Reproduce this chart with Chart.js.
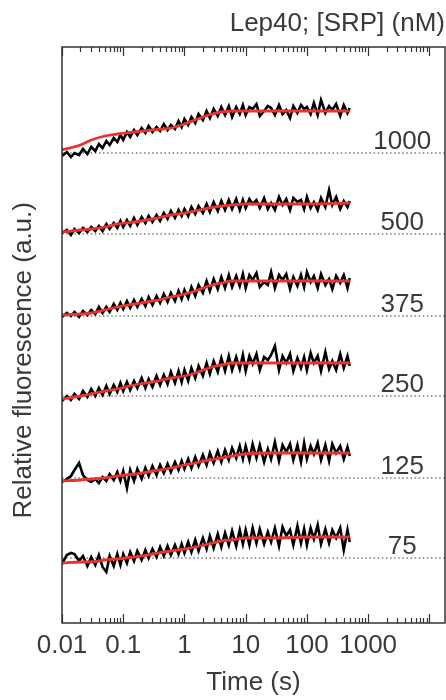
<!DOCTYPE html>
<html>
<head>
<meta charset="utf-8">
<script src="https://cdn.jsdelivr.net/npm/chart.js@4.4.1/dist/chart.umd.min.js"></script>
<style>
  html, body { margin: 0; padding: 0; background: #fff; }
  #wrap { width: 446px; height: 700px; }
</style>
</head>
<body>
<div id="wrap"><canvas id="kinetics" width="446" height="700"></canvas></div>
<script>
// [SRP] in nM, one trace per concentration, top to bottom
const concentrations = ['1000', '500', '375', '250', '125', '75'];
// level of the dotted line under each trace (a.u.)
const baselines = [47.0, 38.9, 30.7, 22.7, 14.5, 6.5];

// time points of the recorded traces (s)
const traceTimes = [0.01, 0.012, 0.014, 0.016, 0.019, 0.022, 0.026, 0.03, 0.035, 0.04, 0.046, 0.053, 0.06, 0.07, 0.08, 0.09,
  0.1, 0.115, 0.13, 0.15, 0.17, 0.2, 0.23, 0.26, 0.3, 0.35, 0.4, 0.46, 0.53, 0.6, 0.7, 0.8, 0.9,
  1, 1.15, 1.3, 1.5, 1.7, 2, 2.3, 2.6, 3, 3.5, 4, 4.6, 5.3, 6, 7, 8, 9,
  10, 11.5, 13, 15, 17, 20, 23, 26, 30, 35, 40, 46, 53, 60, 70, 80, 90,
  100, 115, 130, 150, 170, 200, 230, 260, 300, 350, 400, 460, 500];

// raw fluorescence above baseline (a.u.)
const raw1000 = [-0.3, 0.1, -0.4, 0.0, -0.2, 0.4, -0.1, 0.6, 0.2, 0.9, 0.5, 1.2, 0.8, 1.5, 1.1, 1.8,
  1.3, 2.1, 1.6, 2.3, 1.8, 2.5, 2.0, 2.7, 2.1, 2.6, 2.2, 2.9, 2.3, 2.8, 2.4, 3.2, 2.6,
  3.4, 2.8, 3.6, 3.0, 3.9, 3.3, 4.2, 3.5, 4.4, 3.7, 4.6, 3.8, 4.7, 3.6, 4.6, 3.9, 4.8,
  3.8, 4.6, 4.4, 4.9, 3.7, 4.2, 4.7, 4.5, 3.8, 4.8, 3.9, 4.3, 3.5, 4.7, 4.0, 4.8, 4.4,
  4.6, 3.9, 5.0, 3.8, 5.3, 4.0, 4.7, 4.3, 4.9, 3.7, 4.8, 4.0, 4.5];
const raw500 = [0.1, 0.4, -0.1, 0.5, 0.1, 0.6, 0.2, 0.7, 0.3, 0.8, 0.3, 1.0, 0.5, 1.1, 0.6, 1.3,
  0.7, 1.4, 0.8, 1.6, 0.9, 1.7, 1.1, 1.8, 1.2, 1.9, 1.3, 2.1, 1.5, 2.3, 1.6, 2.4, 1.8,
  2.5, 1.8, 2.7, 2.0, 2.8, 2.1, 3.0, 2.2, 3.2, 2.3, 3.3, 2.4, 3.4, 2.5, 3.5, 2.4, 3.4,
  2.6, 3.5, 3.0, 3.4, 2.6, 3.6, 2.5, 3.1, 2.4, 3.7, 2.9, 3.5, 2.4, 3.6, 3.2, 3.4, 2.5,
  3.7, 2.6, 3.2, 2.4, 3.6, 2.7, 4.4, 2.9, 3.7, 2.5, 3.3, 2.7, 3.3];
const raw375 = [-0.1, 0.3, 0.0, 0.4, -0.1, 0.5, 0.1, 0.6, 0.2, 0.9, 0.3, 0.9, 0.4, 1.2, 0.6, 1.3,
  0.7, 1.5, 0.8, 1.6, 0.9, 1.7, 1.0, 1.9, 1.1, 2.0, 1.3, 2.2, 1.4, 2.3, 1.5, 2.5, 1.7,
  2.6, 1.8, 2.9, 2.0, 3.1, 2.3, 3.5, 2.5, 3.7, 2.7, 3.9, 2.8, 4.1, 2.9, 4.0, 3.0, 4.2,
  2.8, 4.1, 3.6, 4.3, 2.9, 3.4, 3.1, 4.4, 2.8, 4.1, 3.6, 4.2, 2.7, 3.9, 3.0, 4.1, 2.9,
  4.4, 3.4, 4.0, 2.8, 4.2, 3.1, 3.7, 2.7, 4.0, 3.3, 4.1, 2.8, 3.8];
const raw250 = [-0.5, 0.0, -0.4, 0.2, -0.3, 0.5, -0.1, 0.7, 0.0, 0.8, 0.1, 1.0, 0.2, 1.1, 0.4, 1.3,
  0.5, 1.4, 0.6, 1.5, 0.8, 1.8, 0.8, 1.7, 0.9, 2.0, 1.1, 2.1, 1.2, 2.4, 1.3, 2.5, 1.4,
  2.6, 1.5, 2.8, 1.8, 3.0, 2.0, 3.3, 2.2, 3.5, 2.4, 3.8, 2.5, 4.0, 2.6, 3.9, 2.7, 4.1,
  2.5, 4.0, 3.2, 4.2, 2.6, 3.9, 3.6, 4.1, 5.0, 2.6, 4.0, 3.3, 4.2, 2.5, 3.8, 2.8, 3.9,
  2.6, 4.3, 3.3, 4.0, 2.5, 4.4, 2.7, 3.5, 2.6, 4.2, 2.8, 4.0, 3.0];
const raw125 = [-0.4, -0.1, 0.2, 0.8, 1.5, 0.3, -0.2, -0.4, -0.1, -0.5, 0.1, -0.3, 0.4, -0.2, 0.6, -0.3,
  0.7, -1.0, 0.8, -0.3, 0.9, -0.1, 1.0, 0.2, 1.2, 0.3, 1.3, 0.5, 1.4, 0.6, 1.6, 0.8, 1.7,
  0.9, 1.9, 1.0, 2.1, 1.2, 2.3, 1.3, 2.5, 1.5, 2.7, 1.6, 2.8, 1.8, 3.0, 2.0, 3.2, 1.9,
  3.2, 1.8, 3.4, 2.0, 3.3, 1.6, 2.9, 1.9, 3.6, 1.7, 3.3, 2.6, 3.4, 1.8, 3.3, 1.6, 3.5,
  1.9, 3.2, 2.4, 3.5, 1.8, 3.3, 1.7, 3.4, 2.5, 3.2, 1.9, 3.1, 2.2];
const raw75 = [-0.6, 0.3, 0.5, 0.4, -0.3, 0.2, -0.8, 0.1, -0.7, 0.3, -0.9, -1.4, 0.2, -0.8, 0.4, -0.7,
  0.4, -0.5, 0.6, -0.3, 0.7, -0.2, 0.8, 0.0, 0.9, 0.1, 1.1, 0.2, 1.2, 0.3, 1.3, 0.4, 1.4,
  0.5, 1.6, 0.6, 1.8, 0.7, 2.0, 0.9, 2.2, 1.0, 2.4, 1.1, 2.5, 1.3, 2.7, 1.2, 2.8, 1.4,
  2.8, 1.3, 3.0, 1.5, 2.9, 1.4, 2.6, 1.6, 3.0, 1.2, 3.1, 2.2, 2.8, 1.3, 3.2, 1.5, 2.9,
  1.3, 3.0, 1.9, 3.3, 1.4, 2.9, 1.5, 2.8, 2.0, 3.0, 0.8, 2.8, 1.6];

// fitted curves (red), sampled at fitTimes
const fitTimes = [0.01, 0.02, 0.03, 0.05, 0.08, 0.15, 0.3, 0.6, 1, 1.5, 2.5, 4, 6, 10, 30, 100, 500];
const fit1000 = [0.3, 0.8, 1.3, 1.7, 1.9, 2.1, 2.3, 2.5, 2.9, 3.3, 3.8, 4.1, 4.2, 4.2, 4.2, 4.2, 4.2];
const fit500 = [0.2, 0.4, 0.5, 0.7, 1.0, 1.2, 1.5, 1.9, 2.1, 2.3, 2.6, 2.8, 2.9, 3.0, 3.0, 3.0, 3.1];
const fit375 = [0.1, 0.2, 0.3, 0.6, 0.9, 1.2, 1.5, 1.9, 2.2, 2.5, 3.0, 3.3, 3.5, 3.5, 3.5, 3.5, 3.5];
const fit250 = [-0.3, 0.0, 0.2, 0.5, 0.7, 1.1, 1.4, 1.8, 2.0, 2.3, 2.8, 3.1, 3.3, 3.3, 3.3, 3.3, 3.3];
const fit125 = [-0.3, -0.2, -0.1, 0.0, 0.2, 0.4, 0.7, 1.0, 1.3, 1.5, 1.8, 2.0, 2.2, 2.4, 2.5, 2.5, 2.5];
const fit75 = [-0.5, -0.4, -0.4, -0.2, -0.1, 0.1, 0.4, 0.7, 0.9, 1.1, 1.4, 1.7, 1.8, 2.0, 2.0, 2.1, 2.1];

// x axis
const xMin = 0.01;
const xMax = 18000;
const decades = [0.01, 0.1, 1, 10, 100, 1000, 10000];
const decadeLabels = ['0.01', '0.1', '1', '10', '100', '1000', ''];

const rawSets = [raw1000, raw500, raw375, raw250, raw125, raw75];
const fitSets = [fit1000, fit500, fit375, fit250, fit125, fit75];

const FONT = "'Liberation Sans', Arial, Helvetica, sans-serif";
const TEXT = '#3a3a3a';

const datasets = [];
concentrations.forEach((c, i) => {
  const base = baselines[i];
  datasets.push({
    label: c + ' baseline',
    data: [{ x: xMin, y: base }, { x: xMax, y: base }],
    borderColor: '#7a7a7a',
    borderWidth: 1.4,
    borderDash: [1.5, 2.6],
    pointRadius: 0,
    order: 2
  });
  datasets.push({
    label: c + ' nM',
    data: traceTimes.map((t, k) => ({ x: t, y: base + rawSets[i][k] })),
    borderColor: '#000',
    borderWidth: 2.6,
    pointRadius: 0,
    tension: 0,
    order: 1
  });
  datasets.push({
    label: c + ' nM fit',
    data: fitTimes.map((t, k) => ({ x: t, y: base + fitSets[i][k] })),
    borderColor: '#e8342f',
    borderWidth: 2.8,
    pointRadius: 0,
    cubicInterpolationMode: 'monotone',
    order: 0
  });
});

// frame, inward log ticks top and bottom, concentration labels
const frameAndLabels = {
  id: 'frameAndLabels',
  afterDatasetsDraw(chart) {
    const { ctx, chartArea: a, scales } = chart;
    ctx.save();
    ctx.strokeStyle = '#333';
    ctx.lineWidth = 1.2;
    scales.x.ticks.forEach(tick => {
      const px = Math.round(scales.x.getPixelForValue(tick.value)) + 0.5;
      const len = decades.includes(tick.value) ? 9 : 5;
      ctx.beginPath();
      ctx.moveTo(px, a.bottom);
      ctx.lineTo(px, a.bottom - len);
      ctx.moveTo(px, a.top);
      ctx.lineTo(px, a.top + len);
      ctx.stroke();
    });
    ctx.lineWidth = 1.5;
    ctx.strokeRect(a.left, a.top, a.right - a.left, a.bottom - a.top);

    ctx.fillStyle = TEXT;
    ctx.font = '26px ' + FONT;
    ctx.textAlign = 'center';
    ctx.textBaseline = 'alphabetic';
    const lx = scales.x.getPixelForValue(3600);
    concentrations.forEach((c, i) => {
      ctx.fillText(c, lx, scales.y.getPixelForValue(baselines[i]) - 4);
    });
    ctx.restore();
  }
};

new Chart(document.getElementById('kinetics'), {
  type: 'line',
  data: { datasets },
  options: {
    responsive: false,
    animation: false,
    devicePixelRatio: 1,
    layout: { padding: { left: 0, right: 1, top: 0, bottom: 0 } },
    plugins: {
      legend: { display: false },
      tooltip: { enabled: false },
      title: {
        display: true,
        text: 'Lep40; [SRP] (nM)',
        align: 'end',
        color: TEXT,
        font: { family: FONT, size: 26, weight: 'normal' },
        padding: { top: 8.4, bottom: 7.4 }
      }
    },
    scales: {
      x: {
        type: 'logarithmic',
        min: xMin,
        max: xMax,
        bounds: 'data',
        afterBuildTicks: axis => {
          const ticks = [];
          decades.forEach(d => {
            for (let m = 1; m <= 9; m++) {
              if (d * m <= xMax) ticks.push({ value: d * m });
            }
          });
          axis.ticks = ticks;
        },
        afterFit: axis => { axis.height = 77; },
        ticks: {
          autoSkip: false,
          maxRotation: 0,
          minRotation: 0,
          padding: 7.4,
          color: TEXT,
          font: { family: FONT, size: 26 },
          callback: value => {
            const i = decades.indexOf(value);
            return i >= 0 ? decadeLabels[i] : '';
          }
        },
        grid: { display: false, drawTicks: false },
        border: { display: false },
        title: {
          display: true,
          text: 'Time (s)',
          color: TEXT,
          font: { family: FONT, size: 26 },
          padding: { top: 0, bottom: 1.4 }
        }
      },
      y: {
        min: 0,
        max: 57.6,
        afterFit: axis => { axis.width = 62; },
        ticks: { display: false },
        grid: { display: false, drawTicks: false },
        border: { display: false },
        title: {
          display: true,
          text: 'Relative fluorescence (a.u.)\u00a0\u00a0\u00a0\u00a0\u00a0\u00a0\u00a0',
          color: TEXT,
          font: { family: FONT, size: 26 },
          padding: { top: 8.4, bottom: 22.4 }
        }
      }
    }
  },
  plugins: [frameAndLabels]
});
</script>
</body>
</html>
